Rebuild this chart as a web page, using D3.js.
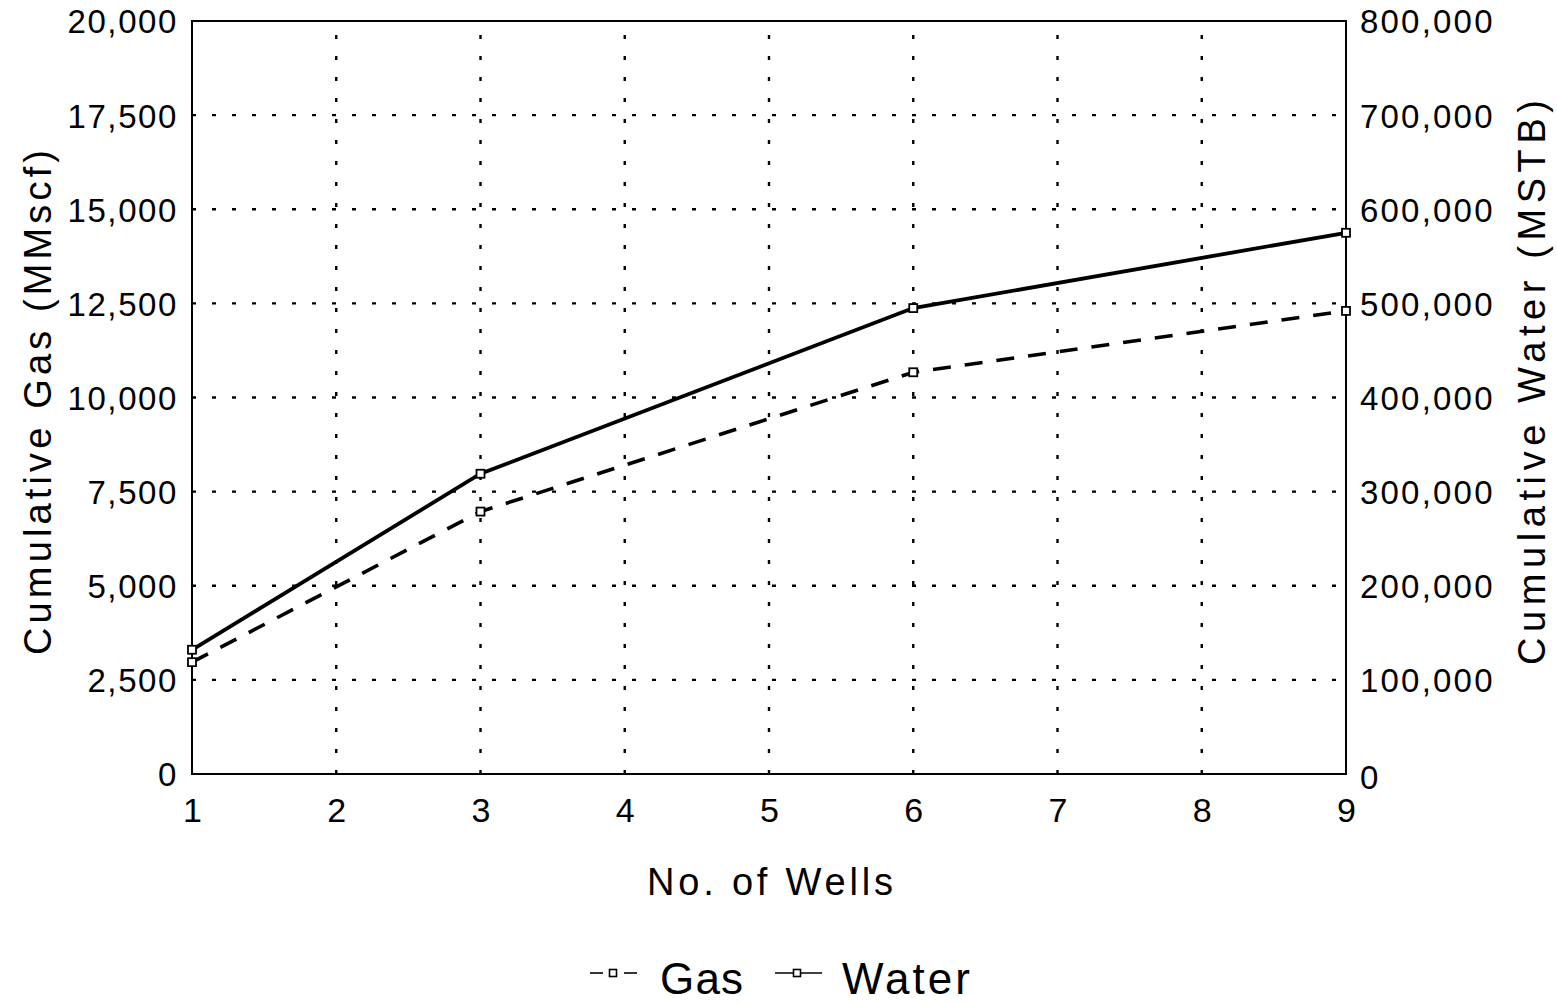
<!DOCTYPE html>
<html><head><meta charset="utf-8">
<script src="https://cdn.jsdelivr.net/npm/d3@7"></script>
<style>
html,body{margin:0;padding:0;background:#fff;}
text{font-family:"Liberation Sans",Arial,Helvetica,sans-serif;fill:#000;}
</style></head>
<body>
<svg id="chart" width="1557" height="1004"></svg>
<script>
const wells = [1, 3, 6, 9];
const gasValues = [2970, 6970, 10670, 12300];
const waterValues = [132000, 319000, 495000, 575000];
const xTicks = [1, 2, 3, 4, 5, 6, 7, 8, 9];
const leftTicks = [0, 2500, 5000, 7500, 10000, 12500, 15000, 17500, 20000];
const rightTicks = [0, 100000, 200000, 300000, 400000, 500000, 600000, 700000, 800000];
const seriesNames = ["Gas", "Water"];

const svg = d3.select("#chart");
const L = 192, R = 1346, T = 21, B = 774;
const x = d3.scaleLinear().domain([1, 9]).range([L, R]);
const yL = d3.scaleLinear().domain([0, 20000]).range([B, T]);
const yR = d3.scaleLinear().domain([0, 800000]).range([B, T]);
const fmt = d3.format(",");

// grid
const g = svg.append("g");
g.selectAll(".vg").data(xTicks.slice(1, -1)).enter().append("line")
  .attr("x1", d => x(d)).attr("x2", d => x(d)).attr("y1", B).attr("y2", T)
  .attr("stroke", "#000").attr("stroke-width", 2.4).attr("stroke-dasharray", "4,17");
g.selectAll(".hg").data(leftTicks.slice(1, -1)).enter().append("line")
  .attr("x1", L).attr("x2", R).attr("y1", d => yL(d)).attr("y2", d => yL(d))
  .attr("stroke", "#000").attr("stroke-width", 2.4).attr("stroke-dasharray", "4,16");

// frame
svg.append("rect").attr("x", L).attr("y", T).attr("width", R - L).attr("height", B - T)
  .attr("fill", "none").attr("stroke", "#000").attr("stroke-width", 2);

// axes
const axB = svg.append("g").attr("transform", `translate(0,${B})`)
  .call(d3.axisBottom(x).tickValues(xTicks).tickFormat(d3.format("d")).tickSize(0).tickPadding(0));
const axL = svg.append("g").attr("transform", `translate(${L},0)`)
  .call(d3.axisLeft(yL).tickValues(leftTicks).tickFormat(fmt).tickSize(0).tickPadding(14));
const axR = svg.append("g").attr("transform", `translate(${R},0)`)
  .call(d3.axisRight(yR).tickValues(rightTicks).tickFormat(fmt).tickSize(0).tickPadding(14));
[axB, axL, axR].forEach(a => {
  a.select(".domain").remove();
  a.selectAll("text").attr("font-family", "Liberation Sans, Arial, sans-serif").attr("fill", "#000");
});
axL.selectAll("text").attr("font-size", 33).attr("dy", "0.36em").attr("letter-spacing", "1.6px");
axR.selectAll("text").attr("font-size", 33).attr("dy", "0.36em").attr("letter-spacing", "2.2px");
axR.selectAll(".tick").filter(d => d === 0).select("text").attr("dy", "0.44em");
axB.selectAll("text").attr("font-size", 34).attr("y", 48).attr("dy", 0);

// lines
const gasLine = d3.line().x((d, i) => x(wells[i])).y(d => yL(d));
const waterLine = d3.line().x((d, i) => x(wells[i])).y(d => yR(d));
svg.append("path").datum(gasValues).attr("d", gasLine).attr("fill", "none")
  .attr("stroke", "#000").attr("stroke-width", 3.6).attr("stroke-dasharray", "18,14");
svg.append("path").datum(waterValues).attr("d", waterLine).attr("fill", "none")
  .attr("stroke", "#000").attr("stroke-width", 3.8);

const ms = 8;
svg.selectAll(".gm").data(gasValues).enter().append("rect")
  .attr("x", (d, i) => x(wells[i]) - ms / 2).attr("y", d => yL(d) - ms / 2)
  .attr("width", ms).attr("height", ms).attr("fill", "#fff").attr("stroke", "#000").attr("stroke-width", 1.8);
svg.selectAll(".wm").data(waterValues).enter().append("rect")
  .attr("x", (d, i) => x(wells[i]) - ms / 2).attr("y", d => yR(d) - ms / 2)
  .attr("width", ms).attr("height", ms).attr("fill", "#fff").attr("stroke", "#000").attr("stroke-width", 1.8);

// axis titles
svg.append("text").attr("x", 647).attr("y", 895)
  .attr("font-size", 38).attr("textLength", 246).attr("lengthAdjust", "spacing").text("No. of Wells");
svg.append("text").attr("transform", `translate(51,655) rotate(-90)`)
  .attr("font-size", 38).attr("textLength", 505).attr("lengthAdjust", "spacing").text("Cumulative Gas (MMscf)");
svg.append("text").attr("transform", `translate(1545,665) rotate(-90)`)
  .attr("font-size", 38).attr("textLength", 565).attr("lengthAdjust", "spacing").text("Cumulative Water (MSTB)");

// legend
const legend = svg.append("g");
const legItems = [
  {name: seriesNames[0], x0: 590, x1: 637, mx: 613, dash: true, tx: 660, tl: 83},
  {name: seriesNames[1], x0: 775, x1: 822, mx: 797, dash: false, tx: 842, tl: 128}
];
const ly = 973;
legItems.forEach(it => {
  if (it.dash) {
    legend.append("line").attr("x1", it.x0).attr("x2", it.x0 + 13).attr("y1", ly).attr("y2", ly).attr("stroke", "#000").attr("stroke-width", 1.6);
    legend.append("line").attr("x1", it.x1 - 13).attr("x2", it.x1).attr("y1", ly).attr("y2", ly).attr("stroke", "#000").attr("stroke-width", 1.6);
  } else {
    legend.append("line").attr("x1", it.x0).attr("x2", it.x1).attr("y1", ly).attr("y2", ly).attr("stroke", "#000").attr("stroke-width", 1.6);
  }
  legend.append("rect").attr("x", it.mx - 3.5).attr("y", ly - 3.5).attr("width", 7).attr("height", 7)
    .attr("fill", "#fff").attr("stroke", "#000").attr("stroke-width", 1.6);
  legend.append("text").attr("x", it.tx).attr("y", 994).attr("font-size", 44)
    .attr("textLength", it.tl).attr("lengthAdjust", "spacing").text(it.name);
});
</script>
</body></html>
